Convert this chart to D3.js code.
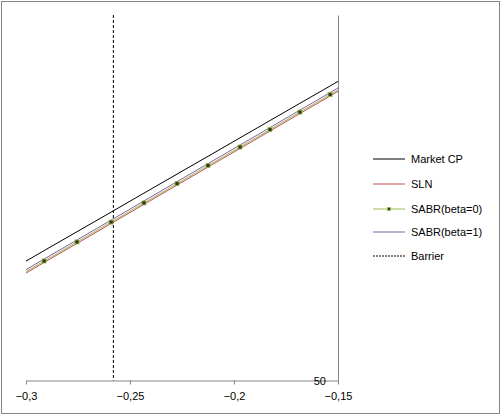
<!DOCTYPE html>
<html><head><meta charset="utf-8">
<script src="https://cdn.jsdelivr.net/npm/d3@7"></script>
<style>body{margin:0;background:#fff}svg{display:block}</style>
</head><body>
<script>
const strikes = [-0.3, -0.2913, -0.2755, -0.2591, -0.2433, -0.2274, -0.2125, -0.1971, -0.1827, -0.1683, -0.1538, -0.15];
const marketCP = [66.33, 67.77, 70.35, 73.03, 75.63, 78.23, 80.67, 83.20, 85.56, 87.92, 90.29, 90.92];
const sln      = [64.69, 66.15, 68.75, 71.47, 74.09, 76.73, 79.20, 81.74, 84.13, 86.52, 88.91, 89.55];
const sabr0    = [64.89, 66.35, 68.95, 71.67, 74.29, 76.93, 79.40, 81.94, 84.33, 86.72, 89.11, 89.75];
const sabr1    = [65.16, 66.62, 69.22, 71.94, 74.56, 77.20, 79.67, 82.21, 84.60, 86.99, 89.38, 90.02];
const sabr0Markers = [1, 2, 3, 4, 5, 6, 7, 8, 9, 10];
const barrier = -0.258;
const xTicks = [-0.3, -0.25, -0.2, -0.15];
const yMin = 50, yMax = 100;
const seriesNames = ["Market CP", "SLN", "SABR(beta=0)", "SABR(beta=1)", "Barrier"];

const W = 501, H = 416;
const svg = d3.select("body").append("svg").attr("width", W).attr("height", H);
const font = "'Liberation Sans', Arial, sans-serif";

svg.append("rect").attr("x", 1.5).attr("y", 1.5).attr("width", W - 3).attr("height", H - 4)
  .attr("fill", "#fff").attr("stroke", "#868686").attr("stroke-width", 1);

const x = d3.scaleLinear().domain([-0.3, -0.15]).range([26, 338]);
const y = d3.scaleLinear().domain([yMin, yMax]).range([380.5, 15]);

// x axis
const xAxis = d3.axisBottom(x).tickValues(xTicks).tickSize(4).tickSizeOuter(0)
  .tickFormat(d => d3.format(".2~f")(d).replace(".", ","));
const gx = svg.append("g").attr("transform", `translate(0,${y(yMin)})`).call(xAxis);
gx.select(".domain").attr("stroke", "#868686");
gx.selectAll(".tick line").attr("stroke", "#868686");
gx.selectAll(".tick text").attr("font-family", font).attr("font-size", 11).attr("fill", "#000").attr("dy", "1.1em");

// y axis at right (crosses at -0.15)
const yAxis = d3.axisLeft(y).tickValues([yMin]).tickSize(0).tickSizeOuter(0).tickPadding(12);
const gy = svg.append("g").attr("transform", `translate(${x(-0.15)},0)`).call(yAxis);
gy.select(".domain").attr("stroke", "#868686");
gy.selectAll(".tick text").attr("font-family", font).attr("font-size", 11).attr("fill", "#000");

// barrier
svg.append("line").attr("x1", x(barrier)).attr("x2", x(barrier)).attr("y1", y(yMax)).attr("y2", y(yMin))
  .attr("stroke", "#000").attr("stroke-width", 1).attr("stroke-dasharray", "3,2");

const line = d3.line().x((d, i) => x(strikes[i])).y(d => y(d));
const series = [
  {vals: marketCP, color: "#000000"},
  {vals: sabr1, color: "#8064A2"},
  {vals: sabr0, color: "#9BBB59"},
  {vals: sln, color: "#C0504D"},
];
series.forEach(s => {
  svg.append("path").datum(s.vals).attr("d", line).attr("fill", "none")
    .attr("stroke", s.color).attr("stroke-width", 1);
});
svg.selectAll("rect.mk").data(sabr0Markers).enter().append("rect").attr("class", "mk")
  .attr("x", i => x(strikes[i]) - 2).attr("y", i => y(sabr0[i]) - 2)
  .attr("width", 4).attr("height", 4).attr("fill", "#2f3a0c").attr("stroke", "#9BBB59").attr("stroke-width", 0.8);

// legend
const legY = [159, 184, 209, 232, 256];
const legColors = ["#000000", "#C0504D", "#9BBB59", "#8064A2", "#000000"];
const lg = svg.append("g");
seriesNames.forEach((n, i) => {
  const l = lg.append("line").attr("x1", 373).attr("x2", 405).attr("y1", legY[i]).attr("y2", legY[i])
    .attr("stroke", legColors[i]).attr("stroke-width", 1);
  if (i === 4) l.attr("stroke-dasharray", "2,1");
  if (i === 2) lg.append("rect").attr("x", 387.5).attr("y", legY[i] - 1.5).attr("width", 3).attr("height", 3)
    .attr("fill", "#2f3a0c").attr("stroke", "#9BBB59").attr("stroke-width", 0.8);
  lg.append("text").attr("x", 411).attr("y", legY[i]).attr("dy", "0.35em")
    .attr("font-family", font).attr("font-size", 11).attr("fill", "#000").text(n);
});
</script>
</body></html>
